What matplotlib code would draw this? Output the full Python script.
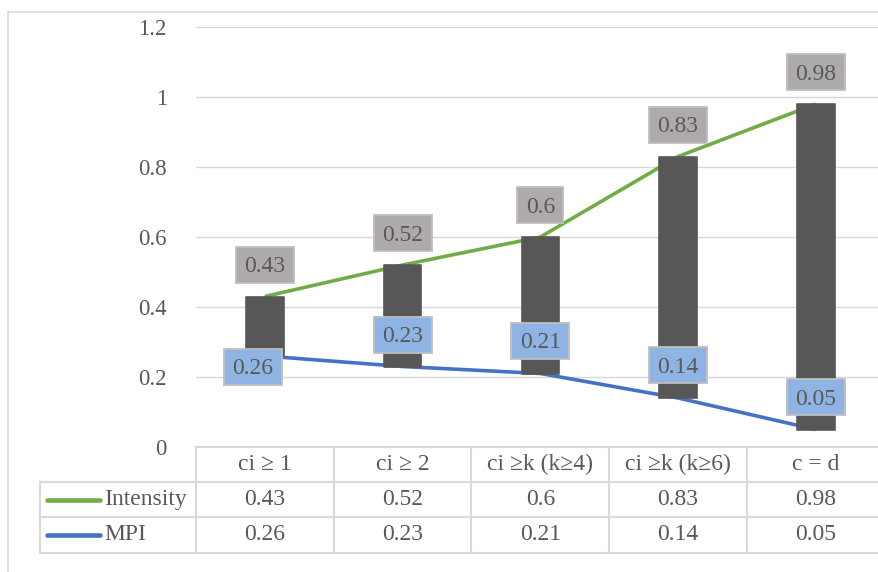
import matplotlib
matplotlib.use("Agg")
import matplotlib.pyplot as plt
from matplotlib.patches import Rectangle
import numpy as np

plt.rcParams['font.family'] = ['Liberation Serif', 'DejaVu Serif']

categories = ["ci \u2265 1", "ci \u2265 2", "ci \u2265k (k\u22654)", "ci \u2265k (k\u22656)", "c = d"]
intensity = [0.43, 0.52, 0.6, 0.83, 0.98]
mpi = [0.26, 0.23, 0.21, 0.14, 0.05]
series_names = ["Intensity", "MPI"]
yticks = [0, 0.2, 0.4, 0.6, 0.8, 1, 1.2]
ytick_labels = ["0", "0.2", "0.4", "0.6", "0.8", "1", "1.2"]

TXT = "#595959"
GRID = "#D9D9D9"
GREEN = "#70AD47"
BLUE = "#4472C4"
BAR = "#575757"
GRAY_BOX = "#AEAAAA"
BLUE_BOX = "#8FB4E3"

W, H = 879, 572
fig = plt.figure(figsize=(W / 100, H / 100), dpi=100)

# pixel-space overlay for frame, data table and label boxes
ov = fig.add_axes([0, 0, 1, 1], zorder=0)
ov.set_xlim(0, W)
ov.set_ylim(H, 0)
ov.axis("off")

# plot area geometry (pixels)
px_left, px_bottom, px_top = 196, 447, 27
col_w = 137.75
ax = fig.add_axes([px_left / W, (H - px_bottom) / H, (W - px_left) / W, (px_bottom - px_top) / H], zorder=2)
ax.patch.set_alpha(0)
ax.set_xlim(-0.5, -0.5 + (W - px_left) / col_w)
ax.set_ylim(0, 1.2)
for s in ax.spines.values():
    s.set_visible(False)
ax.set_yticks(yticks)
ax.set_yticklabels(ytick_labels)
ax.tick_params(axis="y", length=0, pad=21, labelsize=16.5, labelcolor=TXT)
ax.set_xticks([])
ax.grid(axis="y", color=GRID, linewidth=1.0)
ax.set_axisbelow(True)

x = np.arange(len(categories))
ax.plot(x, intensity, color=GREEN, linewidth=2.6, solid_capstyle="butt", zorder=2)
ax.plot(x, mpi, color=BLUE, linewidth=2.6, solid_capstyle="butt", zorder=2)
heights = np.array(intensity) - np.array(mpi)
ax.bar(x, heights, bottom=mpi, width=37.5 / col_w, color=BAR, edgecolor=BAR,
       linewidth=1.2, joinstyle="round", zorder=3)

# outer chart frame
ov.plot([8, 8], [12, H + 5], color=GRID, linewidth=1.2, clip_on=False)
ov.plot([8, W + 5], [12, 12], color=GRID, linewidth=1.2, clip_on=False)

# data labels with boxes
renderer = fig.canvas.get_renderer()
fs = 17
fs_px = fs * 100 / 72
label_specs = [(intensity, GRAY_BOX, [(0, -32)] * 5),
               (mpi, BLUE_BOX, [(-12, 10.5), (0, -32), (0, -33), (0, -33), (0, -32.5)])]
for vals, fc, offs in label_specs:
    for i, v in enumerate(vals):
        dx, dy = ax.transData.transform((x[i], v))
        cx = dx + offs[i][0]
        cy = (H - dy) + offs[i][1]
        t = ov.text(cx, cy + 0.33 * fs_px, f"{v:g}", ha="center", va="baseline",
                    fontsize=fs, color=TXT, zorder=6)
        bb = t.get_window_extent(renderer)
        bw, bh = bb.width + 17, 36
        ov.add_patch(Rectangle((cx - bw / 2, cy - bh / 2), bw, bh, facecolor=fc,
                               edgecolor="#BFBFBF", linewidth=1.3, zorder=5))
# bring overlay above the plot so label boxes sit on the bars
ov.set_zorder(3)
ov.patch.set_alpha(0)

# data table under the plot
row_y = [447, 482, 517, 553]
tab_left = 40
col_edges = [px_left + i * col_w for i in range(len(categories) + 1)]
tline = dict(color=GRID, linewidth=1.5, clip_on=False, zorder=1)
ov.plot([px_left, W + 5], [row_y[0]] * 2, **tline)
for yy in row_y[1:]:
    ov.plot([tab_left, W + 5], [yy] * 2, **tline)
ov.plot([tab_left, tab_left], [row_y[1], row_y[3]], **tline)
for xe in col_edges:
    ov.plot([xe, xe], [row_y[0], row_y[3]], **tline)

for i, c in enumerate(categories):
    cx = px_left + (i + 0.5) * col_w
    ov.text(cx, (row_y[0] + row_y[1]) / 2, c, ha="center", va="center", fontsize=fs, color=TXT)
    ov.text(cx, (row_y[1] + row_y[2]) / 2, f"{intensity[i]:g}", ha="center", va="center", fontsize=fs, color=TXT)
    ov.text(cx, (row_y[2] + row_y[3]) / 2, f"{mpi[i]:g}", ha="center", va="center", fontsize=fs, color=TXT)

for r, (name, col) in enumerate(zip(series_names, [GREEN, BLUE])):
    yc = (row_y[r + 1] + row_y[r + 2]) / 2
    ov.plot([47, 100], [yc, yc], color=col, linewidth=3.3, solid_capstyle="round")
    ov.text(104, yc, name, ha="left", va="center", fontsize=fs, color=TXT)

fig.savefig("out.png", dpi=100)
